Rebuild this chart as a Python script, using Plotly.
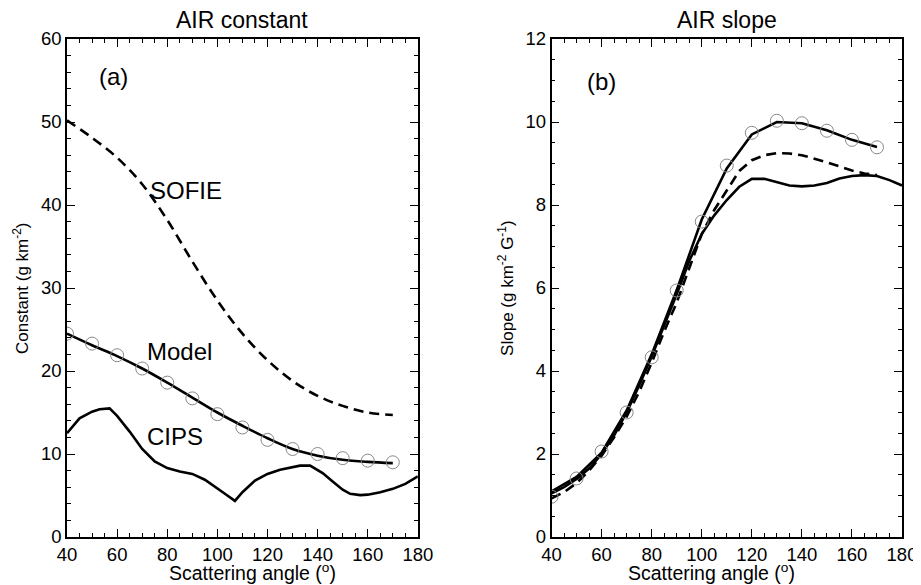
import plotly.graph_objects as go
from plotly.subplots import make_subplots

# ---- Panel (a): AIR constant ----
sofie_x = [40, 50, 60, 70, 80, 90, 100, 110, 120, 130, 140, 150, 160, 170]
sofie_y = [50.2, 48.1, 45.7, 42.5, 38.2, 33.2, 28.5, 24.5, 21.3, 18.8, 17.0, 15.8, 15.0, 14.7]

model_a_x = [40, 50, 60, 70, 80, 90, 100, 110, 120, 130, 140, 150, 160, 170]
model_a_line = [24.5, 23.1, 21.8, 20.3, 18.6, 16.8, 15.0, 13.4, 11.9, 10.6, 9.8, 9.3, 9.05, 8.9]
model_a_pts = [24.5, 23.3, 21.9, 20.3, 18.6, 16.7, 14.8, 13.2, 11.7, 10.6, 10.0, 9.5, 9.2, 9.0]

cips_a_x = [40, 45, 50, 53, 57, 60, 65, 70, 75, 80, 85, 90, 95, 100, 104, 107,
            110, 115, 120, 125, 130, 133, 137, 142, 146, 150, 153, 157, 160, 165, 170, 175, 180]
cips_a_y = [12.5, 14.3, 15.1, 15.4, 15.5, 14.6, 12.7, 10.6, 9.1, 8.3, 7.9, 7.6, 6.9, 5.9, 5.0, 4.35,
            5.4, 6.8, 7.6, 8.1, 8.4, 8.6, 8.6, 7.7, 6.7, 5.7, 5.2, 5.05, 5.1, 5.4, 5.8, 6.4, 7.3]

# ---- Panel (b): AIR slope ----
model_b_x = [40, 50, 60, 70, 80, 90, 100, 110, 120, 130, 140, 150, 160, 170]
model_b_line = [1.1, 1.45, 2.03, 3.05, 4.4, 5.95, 7.65, 8.88, 9.7, 10.0, 9.97, 9.8, 9.57, 9.4]
model_b_pts = [0.97, 1.41, 2.06, 3.0, 4.33, 5.94, 7.6, 8.95, 9.74, 10.03, 9.97, 9.79, 9.57, 9.39]

cips_b_x = [40, 45, 50, 55, 60, 65, 70, 75, 80, 85, 90, 95, 100, 105, 110, 115, 120, 125,
            130, 135, 140, 145, 150, 155, 160, 165, 170, 175, 180]
cips_b_y = [1.05, 1.2, 1.4, 1.65, 2.0, 2.45, 3.0, 3.65, 4.35, 5.1, 5.85, 6.65, 7.3, 7.75, 8.12,
            8.44, 8.63, 8.63, 8.55, 8.47, 8.45, 8.47, 8.53, 8.64, 8.7, 8.72, 8.7, 8.6, 8.47]

sofie_b_x = [40, 45, 50, 55, 60, 65, 70, 75, 80, 85, 90, 95, 100, 105, 110, 115, 120, 125,
             130, 135, 140, 145, 150, 155, 160, 165, 170]
sofie_b_y = [0.93, 1.08, 1.3, 1.6, 1.96, 2.4, 2.9, 3.5, 4.2, 4.95, 5.65, 6.5, 7.3, 7.88, 8.36,
             8.82, 9.08, 9.2, 9.25, 9.24, 9.2, 9.12, 9.03, 8.93, 8.83, 8.76, 8.72]

FONT = "Liberation Sans, Arial, Helvetica, sans-serif"
LW = 2.6

fig = make_subplots(rows=1, cols=2, horizontal_spacing=0.16)

# panel a
fig.add_trace(go.Scatter(x=sofie_x, y=sofie_y, mode="lines", line=dict(color="black", width=LW, dash="10px,6px", shape="spline")), 1, 1)
fig.add_trace(go.Scatter(x=model_a_x, y=model_a_line, mode="lines", line=dict(color="black", width=LW, shape="spline")), 1, 1)
fig.add_trace(go.Scatter(x=model_a_x, y=model_a_pts, mode="markers",
                         marker=dict(symbol="circle-open", size=13, color="#888888", line=dict(width=1))), 1, 1)
fig.add_trace(go.Scatter(x=cips_a_x, y=cips_a_y, mode="lines", line=dict(color="black", width=LW)), 1, 1)

# panel b
fig.add_trace(go.Scatter(x=sofie_b_x, y=sofie_b_y, mode="lines", line=dict(color="black", width=LW, dash="10px,6px")), 1, 2)
fig.add_trace(go.Scatter(x=cips_b_x, y=cips_b_y, mode="lines", line=dict(color="black", width=LW)), 1, 2)
fig.add_trace(go.Scatter(x=model_b_x, y=model_b_line, mode="lines", line=dict(color="black", width=LW)), 1, 2)
fig.add_trace(go.Scatter(x=model_b_x, y=model_b_pts, mode="markers",
                         marker=dict(symbol="circle-open", size=13, color="#888888", line=dict(width=1))), 1, 2)

axis_common = dict(showgrid=False, zeroline=False, showline=True, linecolor="black", linewidth=1.5,
                   mirror="ticks", ticks="inside", ticklen=8, tickwidth=1.3, tickcolor="black",
                   automargin=False,
                   tickfont=dict(family=FONT, size=18.5, color="black"))

xa = dict(axis_common, range=[40, 180], dtick=20, tick0=40,
          minor=dict(dtick=5, ticks="inside", ticklen=4, tickcolor="black", tickwidth=1))
fig.update_xaxes(xa, row=1, col=1)
fig.update_xaxes(xa, row=1, col=2)
fig.update_xaxes(domain=[0, 0.4202], row=1, col=1)
fig.update_xaxes(domain=[0.5803, 1.0], row=1, col=2)

fig.update_yaxes(axis_common, range=[0, 60], dtick=10,
                 minor=dict(dtick=2, ticks="inside", ticklen=4, tickcolor="black", tickwidth=1),
                 row=1, col=1)
fig.update_yaxes(axis_common, range=[0, 12], dtick=2,
                 minor=dict(dtick=0.5, ticks="inside", ticklen=4, tickcolor="black", tickwidth=1),
                 row=1, col=2)

ann_font = dict(family=FONT, size=24, color="black")
title_font = dict(family=FONT, size=23, color="black")
xt_font = dict(family=FONT, size=19.5, color="black")
yt_font = dict(family=FONT, size=17, color="black")
anns = [
    dict(x=51.8, y=55.5, text="(a)", xref="x", yref="y", xanchor="left", yanchor="middle", showarrow=False, font=ann_font),
    dict(x=72.3, y=41.7, text="SOFIE", xref="x", yref="y", xanchor="left", yanchor="middle", showarrow=False, font=ann_font),
    dict(x=71.1, y=22.4, text="Model", xref="x", yref="y", xanchor="left", yanchor="middle", showarrow=False, font=ann_font),
    dict(x=71.1, y=12.1, text="CIPS", xref="x", yref="y", xanchor="left", yanchor="middle", showarrow=False, font=ann_font),
    dict(x=53.3, y=10.97, text="(b)", xref="x2", yref="y2", xanchor="left", yanchor="middle", showarrow=False, font=ann_font),
    # panel titles
    dict(x=0.2101, y=1.0, text="AIR constant", xref="paper", yref="paper", xanchor="center", yanchor="bottom",
         yshift=4, showarrow=False, font=title_font),
    dict(x=0.79, y=1.0, text="AIR slope", xref="paper", yref="paper", xanchor="center", yanchor="bottom",
         yshift=4, showarrow=False, font=title_font),
    # x axis titles
    dict(x=0.2227, y=0, text="Scattering angle (<sup>o</sup>)", xref="paper", yref="paper", xanchor="center",
         yanchor="top", yshift=-21, showarrow=False, font=xt_font),
    dict(x=0.7722, y=0, text="Scattering angle (<sup>o</sup>)", xref="paper", yref="paper", xanchor="center",
         yanchor="top", yshift=-21, showarrow=False, font=xt_font),
    # y axis titles
    dict(x=-0.0551, y=0.5, text="Constant (g km<sup>-2</sup>)", xref="paper", yref="paper", xanchor="center",
         yanchor="middle", textangle=-90, showarrow=False, font=yt_font),
    dict(x=0.5256, y=0.5, text="Slope (g km<sup>-2</sup> G<sup>-1</sup>)", xref="paper", yref="paper", xanchor="center",
         yanchor="middle", textangle=-90, showarrow=False, font=yt_font),
]
fig.update_layout(annotations=anns)

# page body has an 8px margin, so the figure is sized/offset to land the plot areas where the reference has them
fig.update_layout(width=913, height=577, showlegend=False,
                  margin=dict(l=59, r=19, t=31, b=48),
                  plot_bgcolor="white", paper_bgcolor="white",
                  font=dict(family=FONT, color="black"))

fig.write_html("out.html")
